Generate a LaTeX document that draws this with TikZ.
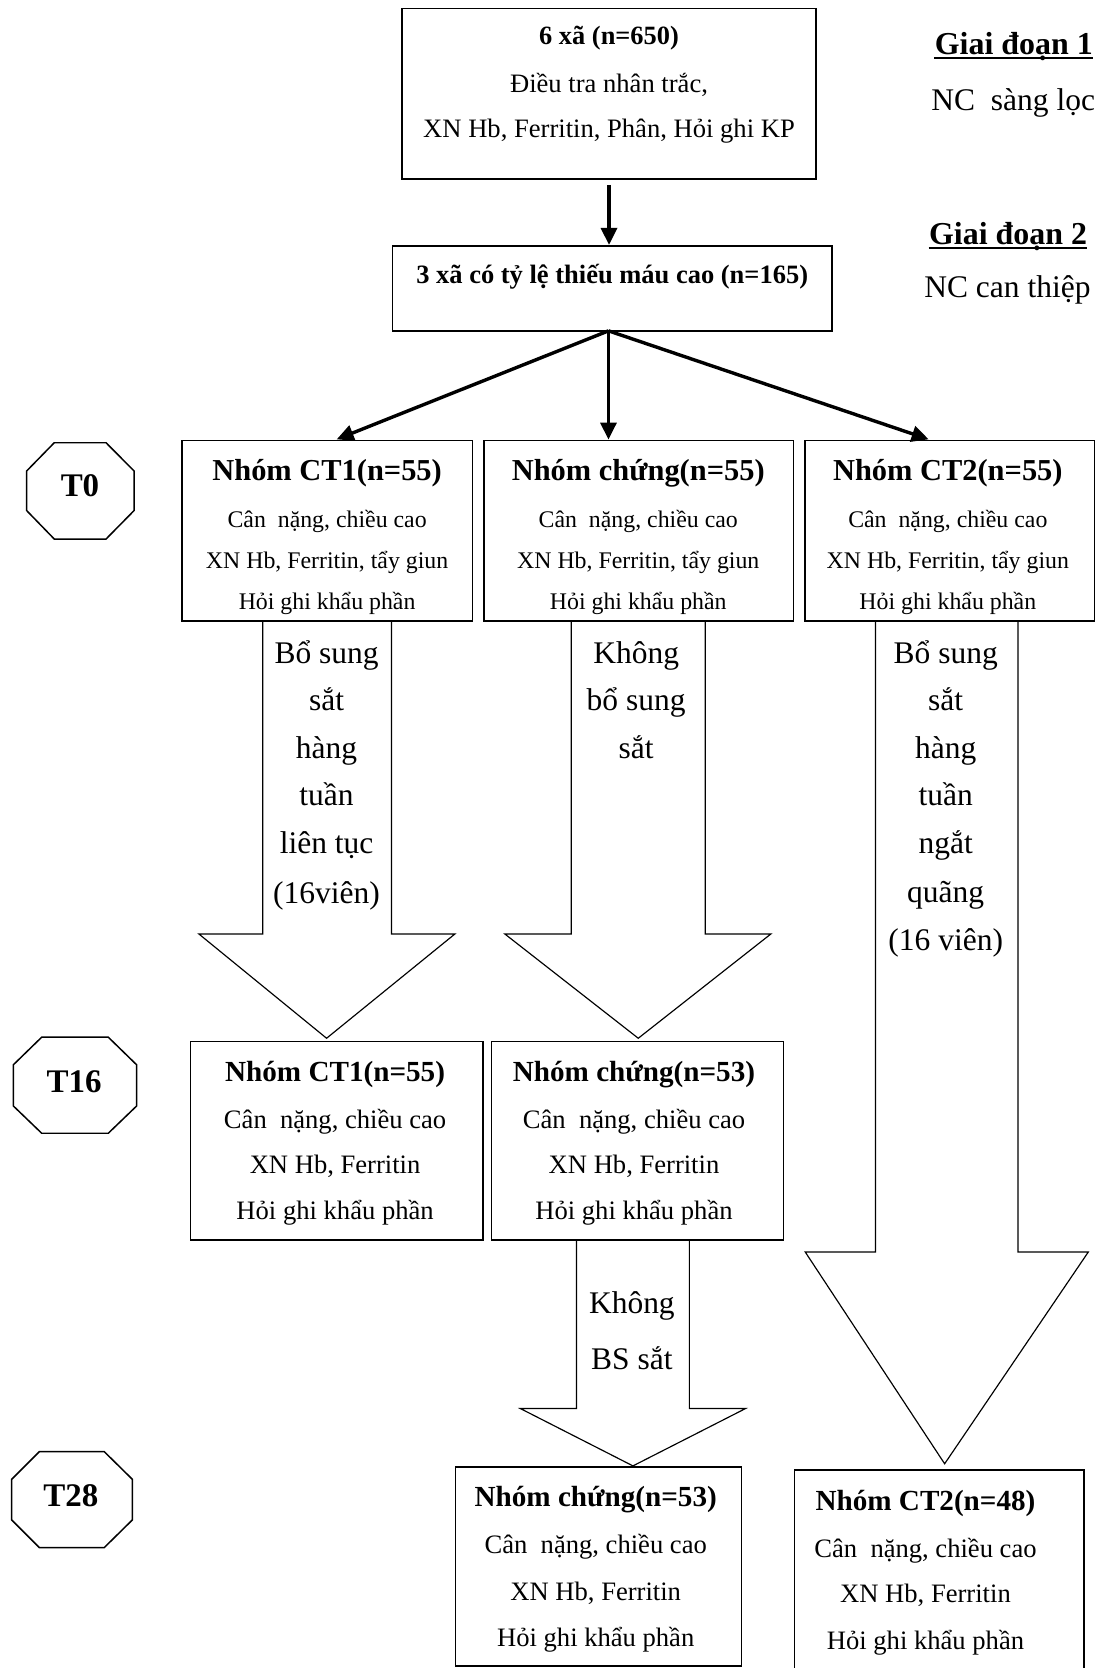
\documentclass[tikz,border=0pt]{standalone}
\usepackage{fontspec}
\setmainfont{Liberation Serif}
\usetikzlibrary{arrows.meta,fit}
\tikzset{
  box/.style={draw, line width=0.75pt, inner sep=0pt},
  conn/.style={line width=1.6pt, -{Triangle[length=8pt,width=7.5pt]}},
  blk/.style={draw, line width=0.55pt, line join=miter},
  oct/.style={draw, line width=0.7pt},
  uline/.style={line width=0.9pt},
  tx/.style 2 args={font={#1\fontsize{#2pt}{#2pt}\selectfont}, anchor=base, inner sep=0pt, yshift={-0.34*#2pt}},
  hA/.style={tx={\bfseries}{14.3}},
  bA/.style={tx={}{11.2}},
  hB/.style={tx={\bfseries}{13.7}},
  bB/.style={tx={}{12.5}},
  atx/.style={tx={}{14.8}},
  tlab/.style={tx={\bfseries}{15.5}},
}
\begin{document}
\begin{tikzpicture}[x=0.5pt,y=-0.5pt]
\useasboundingbox (0,0) rectangle (1034,1568);

% phase labels
\node[tx={\bfseries}{15}] (gd1) at (953,40.7) {Giai đoạn 1};
\draw[uline] ([yshift=-2pt]gd1.base west) -- ([yshift=-2pt]gd1.base east);
\node[atx] (nc1) at (952.5,93.4) {NC\ \ sàng lọc};
\node[tx={\bfseries}{15}] (gd2) at (947.6,219.3) {Giai đoạn 2};
\draw[uline] ([yshift=-2pt]gd2.base west) -- ([yshift=-2pt]gd2.base east);
\node[atx] (nc2) at (947,269.5) {NC can thiệp};

% top box
\node[box, fit={(378,8) (767,168)}] (top) {};
\node[tx={\bfseries}{12.4}] (top1) at (572.5,33) {6 xã (n=650)};
\node[bB] (top2) at (572.5,78) {Điều tra nhân trắc,};
\node[bB] (top3) at (572.5,120.6) {XN Hb, Ferritin, Phân, Hỏi ghi KP};

% second box
\node[box, fit={(369,231) (782,311)}] (b2) {};
\node[tx={\bfseries}{12.45}] (b2t) at (575.5,258) {3 xã có tỷ lệ thiếu máu cao (n=165)};

\draw[conn] ([yshift=-2.5pt]top.south) -- (top.south |- b2.north);

% T0 boxes
\node[box, fit={(171,414) (444,584)}] (c1) {};
\node[box, fit={(455,414) (746,584)}] (c0) {};
\node[box, fit={(757,414) (1029,584)}] (c2) {};

\coordinate (fo) at (572,311);
\coordinate (t1) at (316.5,413);
\coordinate (t3) at (873,413);
\draw[conn] (fo) -- (t1);
\draw[conn] (fo) -- (fo |- c0.north);
\draw[conn] (fo) -- (t3);

\node[hA] (c1h) at (307.5,442) {Nhóm CT1(n=55)};
\node[bA] (c1a) at (307.5,488) {Cân\ \ nặng, chiều cao};
\node[bA] (c1b) at (307.5,527) {XN Hb, Ferritin, tẩy giun};
\node[bA] (c1c) at (307.5,565) {Hỏi ghi khẩu phần};

\node[hA] (c0h) at (600,442) {Nhóm chứng(n=55)};
\node[bA] (c0a) at (600,488) {Cân\ \ nặng, chiều cao};
\node[bA] (c0b) at (600,527) {XN Hb, Ferritin, tẩy giun};
\node[bA] (c0c) at (600,565) {Hỏi ghi khẩu phần};

\node[hA] (c2h) at (891,442) {Nhóm CT2(n=55)};
\node[bA] (c2a) at (891,488) {Cân\ \ nặng, chiều cao};
\node[bA] (c2b) at (891,527) {XN Hb, Ferritin, tẩy giun};
\node[bA] (c2c) at (891,565) {Hỏi ghi khẩu phần};

% block arrows
\draw[blk] (247,584) -- (247,878) -- (187,878) -- (307,976) -- (427.6,878) -- (368,878) -- (368,584);
\draw[blk] (537,584) -- (537,878) -- (474.6,878) -- (600,976) -- (724.6,878) -- (663,878) -- (663,584);
\draw[blk] (823,584) -- (823,1177) -- (757,1177) -- (888,1376) -- (1023,1177) -- (957,1177) -- (957,584);
\draw[blk] (542,1165.5) -- (542,1324) -- (489,1324) -- (595,1378) -- (701,1324) -- (648,1324) -- (648,1165.5);

% arrow texts
\node[atx] (a1l1) at (307,614) {Bổ sung};
\node[atx] (a1l2) at (307,658) {sắt};
\node[atx] (a1l3) at (307,703) {hàng};
\node[atx] (a1l4) at (307,747) {tuần};
\node[atx] (a1l5) at (307,792) {liên tục};
\node[atx] (a1l6) at (307,839) {(16viên)};

\node[atx] (a0l1) at (598,614) {Không};
\node[atx] (a0l2) at (598,658) {bổ sung};
\node[atx] (a0l3) at (598,703) {sắt};

\node[atx] (a2l1) at (889,614) {Bổ sung};
\node[atx] (a2l2) at (889,658) {sắt};
\node[atx] (a2l3) at (889,703) {hàng};
\node[atx] (a2l4) at (889,747) {tuần};
\node[atx] (a2l5) at (889,792) {ngắt};
\node[atx] (a2l6) at (889,838) {quãng};
\node[atx] (a2l7) at (889,883) {(16 viên)};

\node[atx] (a3l1) at (594,1225) {Không};
\node[atx] (a3l2) at (594,1277) {BS sắt};

% T16 boxes
\node[box, fit={(179,979) (454,1165.5)}] (d1) {};
\node[box, fit={(462,979) (736.5,1165.5)}] (d0) {};
\node[hB] (d1h) at (315,1007) {Nhóm CT1(n=55)};
\node[bB] (d1a) at (315,1052) {Cân\ \ nặng, chiều cao};
\node[bB] (d1b) at (315,1095) {XN Hb, Ferritin};
\node[bB] (d1c) at (315,1138) {Hỏi ghi khẩu phần};
\node[hB] (d0h) at (596,1007) {Nhóm chứng(n=53)};
\node[bB] (d0a) at (596,1052) {Cân\ \ nặng, chiều cao};
\node[bB] (d0b) at (596,1095) {XN Hb, Ferritin};
\node[bB] (d0c) at (596,1138) {Hỏi ghi khẩu phần};

% T28 boxes
\node[box, fit={(428,1379) (697,1566)}] (e0) {};
\node[box, fit={(747,1382) (1019,1580)}] (e2) {};
\node[hB] (e0h) at (560,1407) {Nhóm chứng(n=53)};
\node[bB] (e0a) at (560,1452) {Cân\ \ nặng, chiều cao};
\node[bB] (e0b) at (560,1496) {XN Hb, Ferritin};
\node[bB] (e0c) at (560,1539) {Hỏi ghi khẩu phần};
\node[hB] (e2h) at (870,1410.6) {Nhóm CT2(n=48)};
\node[bB] (e2a) at (870,1455.5) {Cân\ \ nặng, chiều cao};
\node[bB] (e2b) at (870,1498) {XN Hb, Ferritin};
\node[bB] (e2c) at (870,1541.7) {Hỏi ghi khẩu phần};

% time octagons
\draw[oct] (51,416.2) -- (99.7,416.2) -- (126,442.7) -- (126,480) -- (99.7,506.7) -- (51,506.7) -- (25.1,480) -- (25.1,442.7) -- cycle;
\draw[oct] (39.2,975) -- (101.8,975) -- (128.5,1001) -- (128.5,1039.6) -- (101.8,1065.3) -- (39.2,1065.3) -- (12.5,1039.6) -- (12.5,1001) -- cycle;
\draw[oct] (37,1364.6) -- (98,1364.6) -- (124.4,1390.6) -- (124.4,1428.8) -- (98,1454.8) -- (37,1454.8) -- (11,1428.8) -- (11,1390.6) -- cycle;
\node[tlab] (T0) at (75.2,456) {T0};
\node[tlab] (T16) at (69.6,1016) {T16};
\node[tlab] (T28) at (66.7,1405.3) {T28};
\end{tikzpicture}
\end{document}
